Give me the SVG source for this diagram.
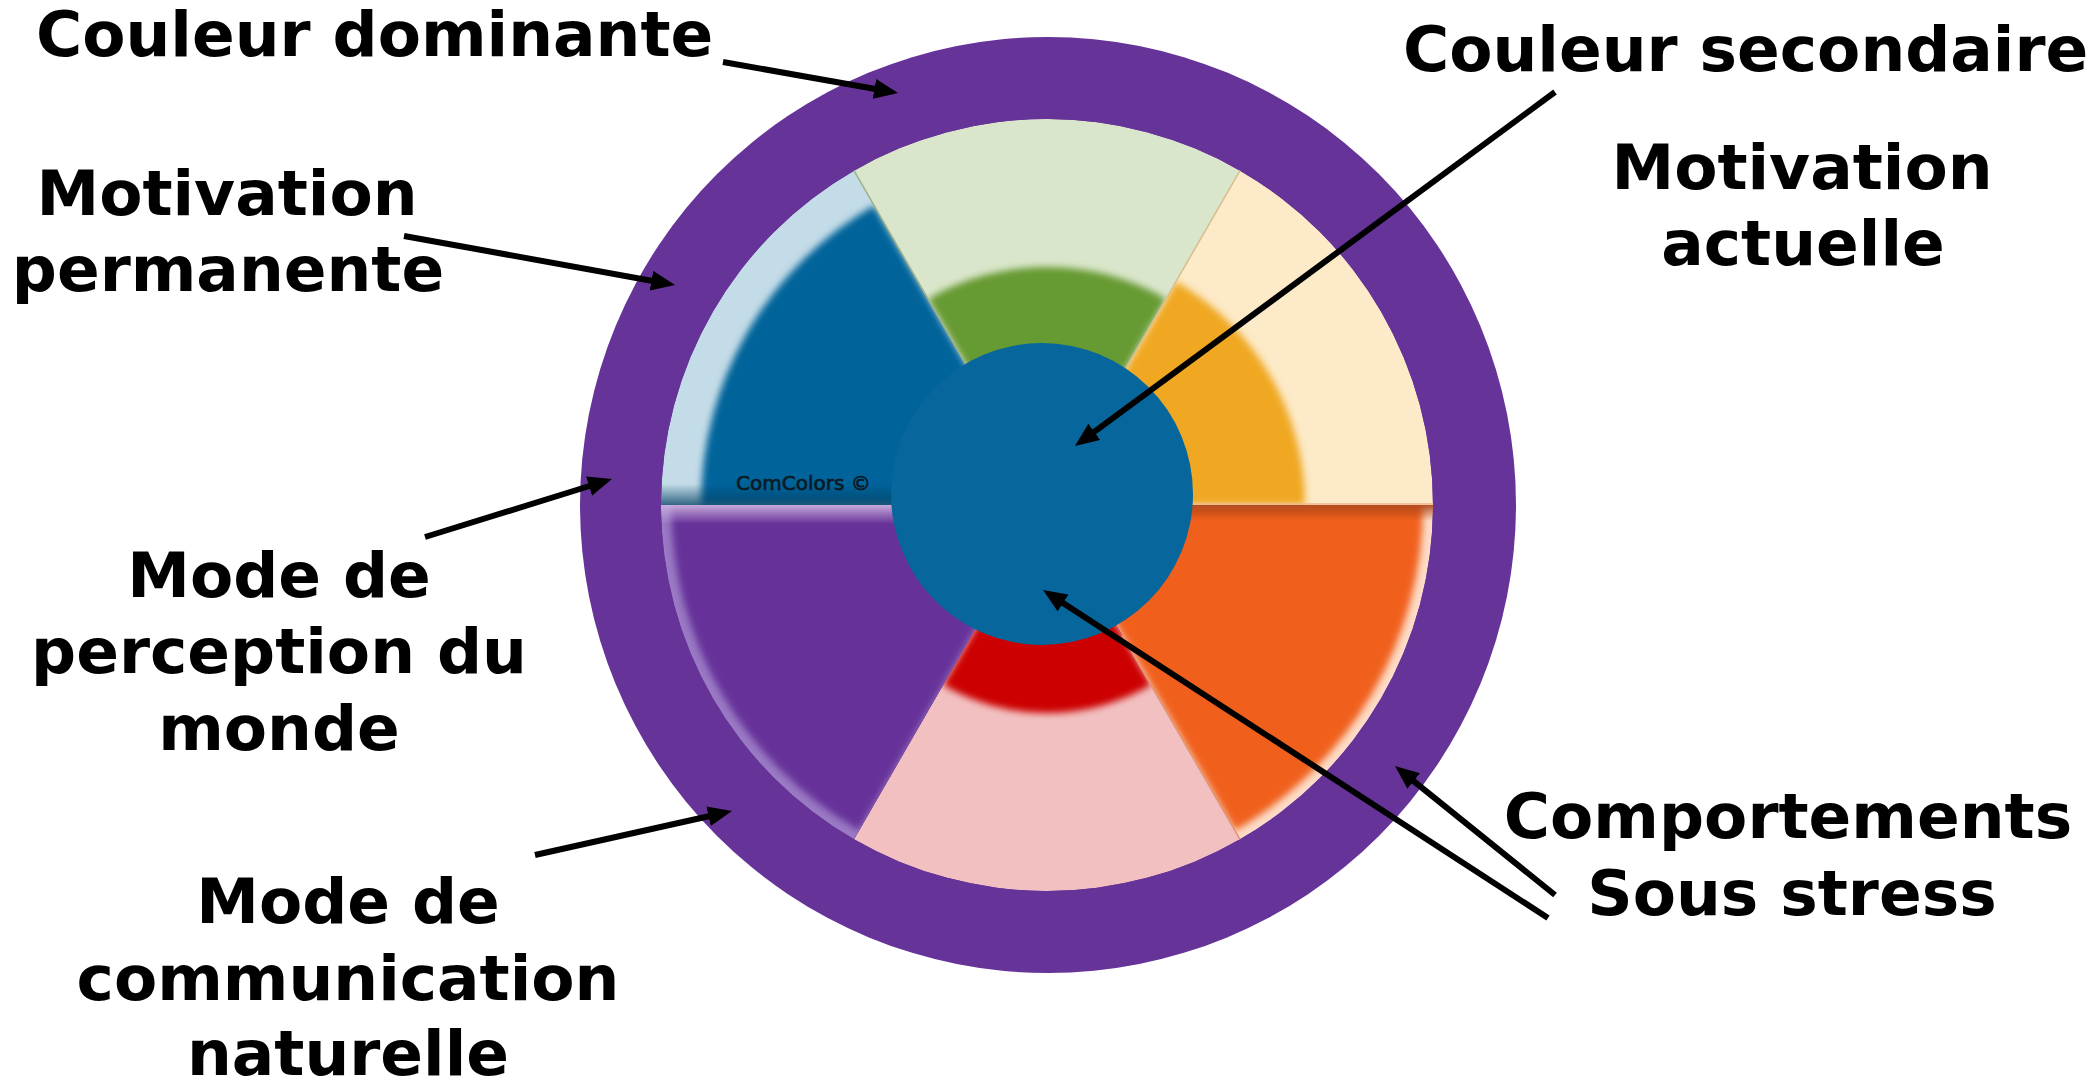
<svg xmlns="http://www.w3.org/2000/svg" width="2099" height="1081" viewBox="0 0 2099 1081">
<style>
.lbl{font-family:"DejaVu Sans",Verdana,sans-serif;font-weight:bold;font-size:63px;fill:#000}
.mid{text-anchor:middle}
.conn{stroke:#000;stroke-width:6;fill:none;marker-end:url(#ah)}
.edge{stroke-width:1.5;fill:none}
</style>
<defs>
<marker id="ah" markerUnits="userSpaceOnUse" markerWidth="24" markerHeight="20" viewBox="0 0 24 20" refX="14" refY="10" orient="auto">
<path d="M0,0 L24,10 L0,20 Z" fill="#000"/>
</marker>
<filter id="soft" x="-10%" y="-10%" width="120%" height="120%"><feGaussianBlur stdDeviation="3.5"/></filter>
<clipPath id="cBlue"><path d="M1047,505 L854,170.7 A386,386 0 0 0 661,505 Z"/></clipPath>
<clipPath id="cGreen"><path d="M1047,505 L1240,170.7 A386,386 0 0 0 854,170.7 Z"/></clipPath>
<clipPath id="cYellow"><path d="M1047,505 L1433,505 A386,386 0 0 0 1240,170.7 Z"/></clipPath>
<clipPath id="cOrange"><path d="M1047,505 L1240,839.3 A386,386 0 0 0 1433,505 Z"/></clipPath>
<clipPath id="cRed"><path d="M1047,505 L854,839.3 A386,386 0 0 0 1240,839.3 Z"/></clipPath>
<clipPath id="cPurple"><path d="M1047,505 L661,505 A386,386 0 0 0 854,839.3 Z"/></clipPath>
<linearGradient id="gBlueBot" x1="0" y1="0" x2="0" y2="1">
<stop offset="0" stop-color="#023F62" stop-opacity="0"/><stop offset="1" stop-color="#023F62" stop-opacity="0.75"/>
</linearGradient>
<linearGradient id="gPurpTop" x1="0" y1="0" x2="0" y2="1">
<stop offset="0" stop-color="#C9AEDD" stop-opacity="1"/><stop offset="1" stop-color="#C9AEDD" stop-opacity="0"/>
</linearGradient>
<linearGradient id="gOrTop" x1="0" y1="0" x2="0" y2="1">
<stop offset="0" stop-color="#A63E10" stop-opacity="0.85"/><stop offset="1" stop-color="#A63E10" stop-opacity="0"/>
</linearGradient>
</defs>

<g id="ring">
<circle cx="1048" cy="505" r="468" fill="#663399"/>
</g>

<g id="sector-blue" clip-path="url(#cBlue)">
<path d="M1047,505 L854,170.7 A386,386 0 0 0 661,505 Z" fill="#C4DCE8"/>
<path d="M1047,505 L874,205.4 A346,346 0 0 0 701,505 Z" fill="#02649A" filter="url(#soft)"/>
<rect x="650" y="484" width="400" height="21" fill="url(#gBlueBot)"/>
</g>

<g id="sector-green" clip-path="url(#cGreen)">
<path d="M1047,505 L1240,170.7 A386,386 0 0 0 854,170.7 Z" fill="#DAE6CB"/>
<path d="M1047,505 L1166,298.9 A238,238 0 0 0 928,298.9 Z" fill="#669A33" filter="url(#soft)"/>
</g>

<g id="sector-yellow" clip-path="url(#cYellow)">
<path d="M1047,505 L1433,505 A386,386 0 0 0 1240,170.7 Z" fill="#FCEAC8"/>
<path d="M1047,505 L1305,505 A258,258 0 0 0 1176,281.6 Z" fill="#F0A820" filter="url(#soft)"/>
</g>

<g id="sector-orange" clip-path="url(#cOrange)">
<path d="M1047,505 L1240,839.3 A386,386 0 0 0 1433,505 Z" fill="#FDDCC8"/>
<path d="M1047,505 L1235,830.6 A376,376 0 0 0 1423,505 Z" fill="#F0601E" filter="url(#soft)"/>
<rect x="1040" y="505" width="400" height="16" fill="url(#gOrTop)"/>
</g>

<g id="sector-red" clip-path="url(#cRed)">
<path d="M1047,505 L854,839.3 A386,386 0 0 0 1240,839.3 Z" fill="#F2C0C0"/>
<path d="M1047,505 L943,685.1 A208,208 0 0 0 1151,685.1 Z" fill="#CC0000" filter="url(#soft)"/>
</g>

<g id="sector-purple" clip-path="url(#cPurple)">
<path d="M1047,505 L661,505 A386,386 0 0 0 854,839.3 Z" fill="#9A7AC4"/>
<path d="M1047,505 L671,505 A376,376 0 0 0 859,830.6 Z" fill="#663399" filter="url(#soft)"/>
<rect x="650" y="504" width="400" height="20" fill="url(#gPurpTop)"/>
</g>

<g id="sector-edges">
<line class="edge" x1="972" y1="375" x2="854" y2="170.7" stroke="#9DB38A"/>
<line class="edge" x1="1122" y1="375" x2="1240" y2="170.7" stroke="#D9C08E"/>
<line class="edge" x1="1122" y1="635" x2="1240" y2="839.3" stroke="#E39470"/>
<line class="edge" x1="1190" y1="504" x2="1433" y2="504" stroke="#F2B48C"/>
</g>

<g id="center">
<circle cx="1042" cy="494" r="151" fill="#07669B"/>
</g>

<g id="watermark">
<text x="736" y="490" font-family="'DejaVu Sans',Verdana,sans-serif" font-size="20" fill="#0B1A26" stroke="#0B1A26" stroke-width="0.7">ComColors ©</text>
</g>

<g id="labels">
<text class="lbl" x="36" y="56">Couleur dominante</text>
<text class="lbl" x="1403" y="71">Couleur secondaire</text>
<text class="lbl mid" x="227" y="215">Motivation</text>
<text class="lbl mid" x="228" y="291">permanente</text>
<text class="lbl mid" x="1802" y="189">Motivation</text>
<text class="lbl mid" x="1803" y="265">actuelle</text>
<text class="lbl mid" x="279" y="597">Mode de</text>
<text class="lbl mid" x="279" y="673">perception du</text>
<text class="lbl mid" x="279" y="750">monde</text>
<text class="lbl mid" x="348" y="923">Mode de</text>
<text class="lbl mid" x="348" y="1000">communication</text>
<text class="lbl mid" x="348" y="1075">naturelle</text>
<text class="lbl mid" x="1788" y="838">Comportements</text>
<text class="lbl mid" x="1792" y="915">Sous stress</text>
</g>

<g id="connectors">
<line class="conn" x1="723" y1="62" x2="888.2" y2="91.3"/>
<line class="conn" x1="404" y1="236" x2="665.2" y2="283.2"/>
<line class="conn" x1="425" y1="537" x2="602.4" y2="482"/>
<line class="conn" x1="535" y1="855" x2="722.2" y2="813.2"/>
<line class="conn" x1="1555" y1="92" x2="1083" y2="440.1"/>
<line class="conn" x1="1555" y1="895" x2="1402.8" y2="772.3"/>
<line class="conn" x1="1548" y1="918" x2="1051.4" y2="595.4"/>
</g>
</svg>
